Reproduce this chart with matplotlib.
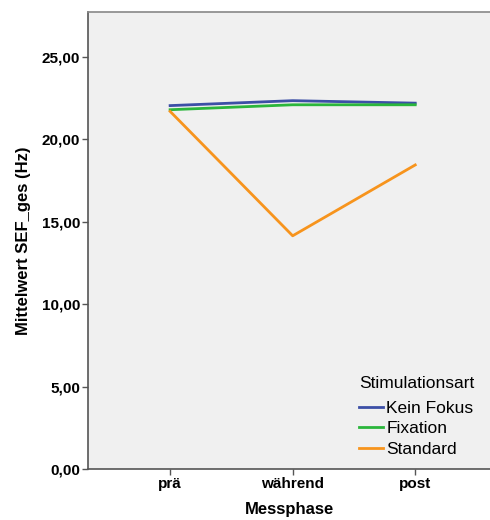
import matplotlib
matplotlib.use("Agg")
from matplotlib import pyplot as plt

plt.rcParams['font.family'] = ['Liberation Sans', 'DejaVu Sans']

phases = ['prä', 'während', 'post']
kein_fokus = [22.05, 22.35, 22.2]
fixation = [21.8, 22.1, 22.1]
standard = [21.7, 14.15, 18.45]
yticks = [0, 5, 10, 15, 20, 25]
ytick_labels = ['0,00', '5,00', '10,00', '15,00', '20,00', '25,00']

fig = plt.figure(figsize=(4.9, 5.2), dpi=100)
ax = fig.add_axes([88/490, 51/520, 1 - 88/490, 457/520])
ax.set_facecolor('#f0f0f0')

x = range(len(phases))
ax.plot(x, kein_fokus, color='#3c4fa6', lw=2, label='Kein Fokus')
ax.plot(x, fixation, color='#2bb63c', lw=2, label='Fixation')
ax.plot(x, standard, color='#f7941d', lw=2, label='Standard')

ax.set_xlim(-0.67, 2.61)
ax.set_ylim(0, 27.73)
ax.set_xticks(list(x))
ax.set_xticklabels(phases, fontsize=11, fontweight='bold')
ax.set_yticks(yticks)
ax.set_yticklabels(ytick_labels, fontsize=11, fontweight='bold')
ax.tick_params(direction='out', length=4, width=1, color='#555555', pad=1.5)

for s in ['left', 'bottom']:
    ax.spines[s].set_color('#555555')
    ax.spines[s].set_linewidth(1.2)
ax.spines['top'].set_color('#888888')
ax.spines['top'].set_linewidth(1.2)
ax.spines['right'].set_visible(False)

ax.set_xlabel('Messphase', fontsize=12, fontweight='bold', labelpad=8)
ax.set_ylabel('Mittelwert SEF_ges (Hz)', fontsize=12, fontweight='bold', labelpad=8)

leg = ax.legend(title='Stimulationsart', loc='lower left', bbox_to_anchor=(0.645, 0.0),
                frameon=False, fontsize=12.5, handlelength=1.35, handletextpad=0.2,
                labelspacing=0.3, borderaxespad=0.3)
leg.get_title().set_fontsize(12.5)
leg._legend_box.align = 'left'
leg._legend_box.sep = 7

fig.savefig('out.png', dpi=100)
